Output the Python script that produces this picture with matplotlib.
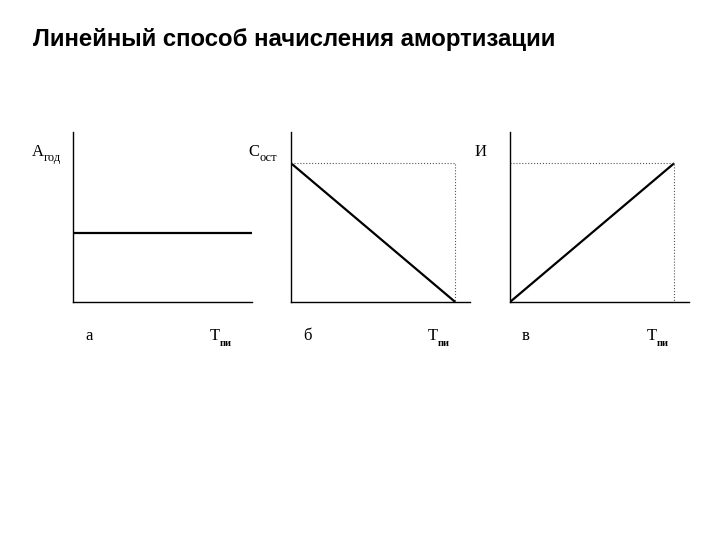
import numpy as np
import matplotlib
matplotlib.use("Agg")
import matplotlib.pyplot as plt

plt.rcParams['font.family'] = ['Liberation Serif', 'DejaVu Serif']

title = "Линейный способ начисления амортизации"

# useful life (normalised) and the three quantities over it
t_life = [0.0, 1.0]
annual_dep = 0.5            # А год - constant
residual = [1.0, 0.0]       # С ост - falls to zero
wear = [0.0, 1.0]           # И - grows to full value

y_labels = ["Aгод", "Сост", "И"]
panel_names = ["а", "б", "в"]

x_max = 1.09
y_max = 1.225

fig = plt.figure(figsize=(7.2, 5.4), dpi=100)
fig.text(0.046, 0.926, title, family='Liberation Sans', fontweight='bold',
         fontsize=17.3, ha='left', va='center')

lefts = [73 / 720, 291 / 720, 510 / 720]
axes = []
for left in lefts:
    ax = fig.add_axes([left, 238 / 540, 179 / 720, 170 / 540])
    ax.set_xlim(0, x_max)
    ax.set_ylim(0, y_max)
    ax.spines['top'].set_visible(False)
    ax.spines['right'].set_visible(False)
    for s in ('left', 'bottom'):
        ax.spines[s].set_linewidth(1.0)
        ax.spines[s].set_color('black')
    ax.set_xticks([])
    ax.set_yticks([])
    ax.patch.set_alpha(0)
    axes.append(ax)

# а: annual depreciation
axes[0].axhline(annual_dep, color='black', lw=1.6)
# б: residual value
axes[1].plot(t_life, residual, color='black', lw=1.6, solid_capstyle='butt')
axes[1].plot([0, t_life[1], t_life[1]], [residual[0], residual[0], 0],
             color='#555555', lw=0.8, ls=':')
# в: accumulated wear
axes[2].plot(t_life, wear, color='black', lw=1.6, solid_capstyle='butt')
axes[2].plot([0, t_life[1], t_life[1]], [wear[1], wear[1], 0],
             color='#555555', lw=0.8, ls=':')

for ax, lab, name in zip(axes, y_labels, panel_names):
    if lab == "Aгод":
        t = ax.text(-0.23, 0.88, "A", transform=ax.transAxes, fontsize=12,
                    ha='left', va='center')
        ax.annotate("год", xy=(1, 0.15), xycoords=t, fontsize=9,
                    ha='left', va='center')
    elif lab == "Сост":
        t = ax.text(-0.24, 0.88, "С", transform=ax.transAxes, fontsize=12,
                    ha='left', va='center')
        ax.annotate("ост", xy=(1, 0.15), xycoords=t, fontsize=9,
                    ha='left', va='center')
    else:
        ax.text(-0.13, 0.885, lab, transform=ax.transAxes, fontsize=12,
                ha='right', va='center')
    ax.text(0.067, -0.2, name, transform=ax.transAxes, fontsize=12,
            ha='left', va='center')
    t = ax.text(0.765, -0.2, "Т", transform=ax.transAxes, fontsize=12,
                ha='left', va='center')
    ax.annotate("пи", xy=(1, 0.05), xycoords=t, fontsize=7.5,
                fontweight='bold', ha='left', va='center')

fig.savefig("out.png", dpi=100)
